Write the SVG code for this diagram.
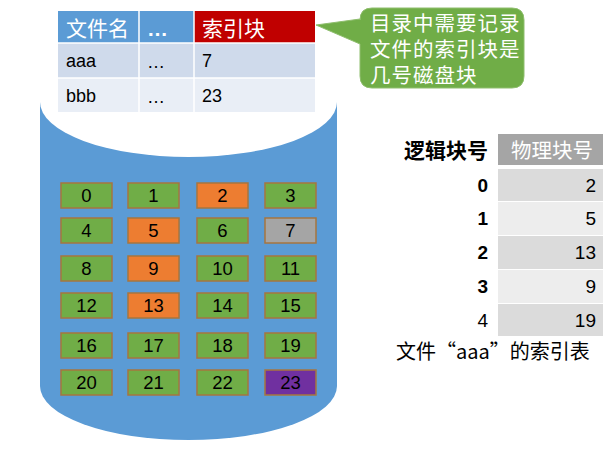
<svg xmlns="http://www.w3.org/2000/svg" width="614" height="452" viewBox="0 0 614 452">
<style>
.cell{stroke:#A6763F;stroke-width:1.5}
.g{fill:#70AD47}.o{fill:#ED7D31}.gr{fill:#A5A5A5}.p{fill:#7030A0}
.ct{font-family:"Liberation Sans","Open Sans",sans-serif;font-size:18.5px;fill:#000;text-anchor:middle;dominant-baseline:central}
.cn{font-family:"Liberation Sans","Noto Sans CJK SC",sans-serif}
.hd{font-size:21px;fill:#fff;dominant-baseline:central}
.bd{font-size:18px;fill:#000;dominant-baseline:central}
</style>
<rect width="614" height="452" fill="#fff"/>
<g id="disk">
<path d="M40,102 L40,386 A148.5,54 0 0 0 337,386 L337,102 Z" fill="#5B9BD5"/>
<ellipse cx="188.5" cy="102" rx="148.5" ry="55" fill="#fff"/>
</g>
<g id="dir-table">
<rect x="58" y="11" width="81" height="32" fill="#5B9BD5"/>
<rect x="139" y="11" width="55" height="32" fill="#5B9BD5"/>
<rect x="194" y="11" width="121" height="32" fill="#C00000"/>
<rect x="58" y="43" width="257" height="35" fill="#CFDAEB"/>
<rect x="58" y="78" width="257" height="34" fill="#E9EEF6"/>
<g stroke="#fff" stroke-width="1.5">
<line x1="58" y1="43" x2="315" y2="43"/><line x1="58" y1="78" x2="315" y2="78"/>
<line x1="139" y1="11" x2="139" y2="112"/><line x1="194" y1="11" x2="194" y2="112"/>
</g>
<text class="cn hd" x="66" y="28">文件名</text>
<text class="cn hd" x="147" y="28" font-size="16" font-weight="bold">…</text>
<text class="cn hd" x="202" y="28">索引块</text>
<text class="cn bd" x="66" y="61">aaa</text>
<text class="cn bd" x="147" y="62">…</text>
<text class="cn bd" x="202" y="61">7</text>
<text class="cn bd" x="66" y="96">bbb</text>
<text class="cn bd" x="147" y="97">…</text>
<text class="cn bd" x="202" y="96">23</text>
</g>
<g id="callout">
<path d="M372,8 L512,8 Q524,8 524,20 L524,76 Q524,88 512,88 L372,88 Q360,88 360,76 L360,44 L316,25 L360,19 L360,20 Q360,8 372,8 Z" fill="#70AD47" stroke="#8FBE6E" stroke-width="1"/>
<g class="cn" font-size="20.5" letter-spacing="1" fill="#fff">
<text x="370" y="31">目录中需要记录</text>
<text x="370" y="57">文件的索引块是</text>
<text x="370" y="83">几号磁盘块</text>
</g>
</g>
<g id="blocks">
<rect class="cell g" x="61" y="183" width="51" height="25"/><text class="ct" x="86.5" y="195.5">0</text>
<rect class="cell g" x="128" y="183" width="51" height="25"/><text class="ct" x="153.5" y="195.5">1</text>
<rect class="cell o" x="197" y="183" width="51" height="25"/><text class="ct" x="222.5" y="195.5">2</text>
<rect class="cell g" x="265" y="183" width="51" height="25"/><text class="ct" x="290.5" y="195.5">3</text>
<rect class="cell g" x="61" y="218" width="51" height="25"/><text class="ct" x="86.5" y="230.5">4</text>
<rect class="cell o" x="128" y="218" width="51" height="25"/><text class="ct" x="153.5" y="230.5">5</text>
<rect class="cell g" x="197" y="218" width="51" height="25"/><text class="ct" x="222.5" y="230.5">6</text>
<rect class="cell gr" x="265" y="218" width="51" height="25"/><text class="ct" x="290.5" y="230.5">7</text>
<rect class="cell g" x="61" y="256" width="51" height="25"/><text class="ct" x="86.5" y="268.5">8</text>
<rect class="cell o" x="128" y="256" width="51" height="25"/><text class="ct" x="153.5" y="268.5">9</text>
<rect class="cell g" x="197" y="256" width="51" height="25"/><text class="ct" x="222.5" y="268.5">10</text>
<rect class="cell g" x="265" y="256" width="51" height="25"/><text class="ct" x="290.5" y="268.5">11</text>
<rect class="cell g" x="61" y="293" width="51" height="25"/><text class="ct" x="86.5" y="305.5">12</text>
<rect class="cell o" x="128" y="293" width="51" height="25"/><text class="ct" x="153.5" y="305.5">13</text>
<rect class="cell g" x="197" y="293" width="51" height="25"/><text class="ct" x="222.5" y="305.5">14</text>
<rect class="cell g" x="265" y="293" width="51" height="25"/><text class="ct" x="290.5" y="305.5">15</text>
<rect class="cell g" x="61" y="333" width="51" height="25"/><text class="ct" x="86.5" y="345.5">16</text>
<rect class="cell g" x="128" y="333" width="51" height="25"/><text class="ct" x="153.5" y="345.5">17</text>
<rect class="cell g" x="197" y="333" width="51" height="25"/><text class="ct" x="222.5" y="345.5">18</text>
<rect class="cell g" x="265" y="333" width="51" height="25"/><text class="ct" x="290.5" y="345.5">19</text>
<rect class="cell g" x="61" y="370" width="51" height="25"/><text class="ct" x="86.5" y="382.5">20</text>
<rect class="cell g" x="128" y="370" width="51" height="25"/><text class="ct" x="153.5" y="382.5">21</text>
<rect class="cell g" x="197" y="370" width="51" height="25"/><text class="ct" x="222.5" y="382.5">22</text>
<rect class="cell p" x="265" y="370" width="51" height="25"/><text class="ct" x="290.5" y="382.5">23</text>
</g>
<g id="index-table">
<rect x="498" y="134" width="105" height="31" fill="#A5A5A5"/>
<rect x="498" y="169" width="105" height="32" fill="#DBDBDB"/>
<rect x="498" y="202" width="105" height="33" fill="#EDEDED"/>
<rect x="498" y="236" width="105" height="33" fill="#DBDBDB"/>
<rect x="498" y="270" width="105" height="33" fill="#EDEDED"/>
<rect x="498" y="304" width="105" height="32" fill="#DBDBDB"/>
<text class="cn" x="488" y="150" font-size="21" font-weight="bold" text-anchor="end" dominant-baseline="central">逻辑块号</text>
<text class="cn" x="552" y="150" font-size="20.5" fill="#fff" text-anchor="middle" dominant-baseline="central">物理块号</text>
<g class="cn" font-size="19" font-weight="bold" text-anchor="end" dominant-baseline="central">
<text x="488" y="185">0</text><text x="488" y="218">1</text><text x="488" y="252">2</text><text x="488" y="286">3</text>
</g>
<text class="cn" x="488" y="320" font-size="19" text-anchor="end" dominant-baseline="central">4</text>
<g class="cn" font-size="19" text-anchor="end" dominant-baseline="central">
<text x="596" y="185">2</text><text x="596" y="218">5</text><text x="596" y="252">13</text><text x="596" y="286">9</text><text x="596" y="320">19</text>
</g>
<text x="396" y="359" font-family="'Noto Sans CJK SC',sans-serif" font-size="20" fill="#000">文件“aaa”的索引表</text>
</g>
</svg>
